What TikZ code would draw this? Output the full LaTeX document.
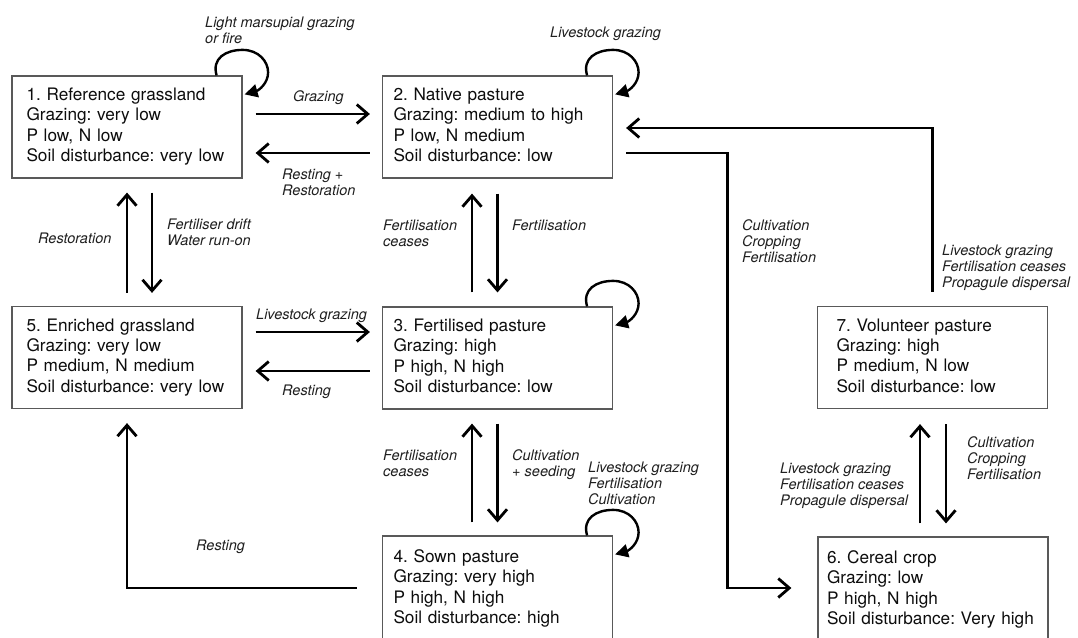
\documentclass[tikz,border=0pt]{standalone}
\usepackage{fontspec}
\usetikzlibrary{arrows.meta,calc}
\newfontfamily\helv{TeX Gyre Heros}
\newcommand{\boxfont}{\helv\frenchspacing\fontsize{17.2}{20.3}\selectfont}
\newcommand{\labfont}{\helv\frenchspacing\itshape\fontsize{14.5}{16}\selectfont}
\tikzset{
  statebox/.style={draw=black!65, line width=1.2pt, minimum width=230pt, minimum height=102pt,
    inner sep=0pt, font=\boxfont, text=black!95, align=left, text width=201pt},
  lab/.style={anchor=north west, inner sep=0pt, font=\labfont, text=black!88, align=left},
  arr/.style={line width=2.8pt, -{Straight Barb[length=11pt,width=19pt]}},
  loopline/.style={line width=2.4pt, -{Triangle[length=13pt,width=13pt]}}
}
\newcommand{\selfloop}[1]{%
  \draw[loopline] ($(#1.north east)+(-26,0)$)
    .. controls ($(#1.north east)+(-31,-17)$) and ($(#1.north east)+(-17,-25.5)$) .. ($(#1.north east)+(0,-25.5)$)
    .. controls ($(#1.north east)+(16,-25.5)$) and ($(#1.north east)+(25.5,-14)$) .. ($(#1.north east)+(25.5,-3)$)
    .. controls ($(#1.north east)+(25.5,8)$) and ($(#1.north east)+(16,15)$) .. ($(#1.north east)+(2,19)$);}
\begin{document}
\begin{tikzpicture}[x=1pt,y=-1pt]
\clip (0,0) rectangle (1078,637);
\fill[white] (0,0) rectangle (1078,637);
% boxes
\node[statebox] (n1) at (127,127) {\strut 1. Reference grassland\\Grazing: very low\\P low, N low\\Soil disturbance: very low\strut};
\node[statebox, text width=208pt] (n2) at (497.5,127) {\strut 2. Native pasture\\Grazing: medium to high\\P low, N medium\\Soil disturbance: low\strut};
\node[statebox] (n5) at (127,357.5) {\strut 5. Enriched grassland\\Grazing: very low\\P medium, N medium\\Soil disturbance: very low\strut};
\node[statebox, text width=208pt] (n3) at (497.5,358) {\strut 3. Fertilised pasture\\Grazing: high\\P high, N high\\Soil disturbance: low\strut};
\node[statebox, text width=208pt, minimum height=106pt] (n4) at (497.5,589) {\strut 4. Sown pasture\\Grazing: very high\\P high, N high\\Soil disturbance: high\strut};
\node[statebox, text width=192pt] (n7) at (932.5,357.5) {\strut 7. Volunteer pasture\\Grazing: high\\P medium, N low\\Soil disturbance: low\strut};
\node[statebox, text width=212pt, minimum height=106pt] (n6) at (933,590) {\strut 6. Cereal crop\\Grazing: low\\P high, N high\\Soil disturbance: Very high\strut};
% self loops
\selfloop{n1}
\selfloop{n2}
\selfloop{n3}
\selfloop{n4}
% horizontal arrows
\draw[arr] ($(n1.east)+(13,-13)$) -- ($(n2.west)+(-12,-13)$);
\draw[arr] ($(n2.west)+(-12,26)$) -- ($(n1.east)+(13,26)$);
\draw[arr] ($(n5.east)+(13,-25.5)$) -- ($(n3.west)+(-12,-26)$);
\draw[arr] ($(n3.west)+(-12,13)$) -- ($(n5.east)+(13,13.5)$);
% vertical arrows
\draw[arr] ($(n5.north)+(0,-13)$) -- ($(n1.south)+(0,14)$);
\draw[arr] ($(n1.south)+(25,14)$) -- ($(n5.north)+(25,-13)$);
\draw[arr] ($(n3.north)+(-25.5,-14)$) -- ($(n2.south)+(-25.5,15)$);
\draw[arr] ($(n2.south)+(0,15)$) -- ($(n3.north)+(0,-14)$);
\draw[arr] ($(n4.north)+(-25.5,-13)$) -- ($(n3.south)+(-25.5,14)$);
\draw[arr] ($(n3.south)+(0,14)$) -- ($(n4.north)+(0,-13)$);
\draw[arr] ($(n6.north)+(-13,-13)$) -- ($(n7.south)+(-12.5,15)$);
\draw[arr] ($(n7.south)+(13.5,15)$) -- ($(n6.north)+(13,-13)$);
% long connectors
\draw[arr] ($(n2.east)+(13,26)$) -| ($(n6.west)+(-90,-2)$) -- ($(n6.west)+(-26,-2)$);
\draw[arr] ($(n7.north)+(0,-14)$) |- ($(n2.east)+(13,1)$);
\draw[arr] ($(n4.west)+(-25,-1)$) -| ($(n5.south)+(0,14)$);
% labels
\node[lab] (l1) at (205,15.8) {\strut Light marsupial grazing\\or fire};
\node[lab] (l2) at (293,89.8) {\strut Grazing};
\node[lab] (l3) at (282,167.8) {\strut Resting +\\Restoration};
\node[lab] (l4) at (550,25.8) {\strut Livestock grazing};
\node[lab] (l5) at (38,231.8) {\strut Restoration};
\node[lab] (l6) at (167,217.8) {\strut Fertiliser drift\\Water run-on};
\node[lab] (l7) at (383,218.8) {\strut Fertilisation\\ceases};
\node[lab] (l8) at (512,218.8) {\strut Fertilisation};
\node[lab] (l9) at (742,218.8) {\strut Cultivation\\Cropping\\Fertilisation};
\node[lab] (l10) at (942,243.8) {\strut Livestock grazing\\Fertilisation ceases\\Propagule dispersal};
\node[lab] (l11) at (256,307.8) {\strut Livestock grazing};
\node[lab] (l12) at (282,383.8) {\strut Resting};
\node[lab] (l13) at (383,448.8) {\strut Fertilisation\\ceases};
\node[lab] (l14) at (512,448.8) {\strut Cultivation\\+ seeding};
\node[lab] (l15) at (588,460.8) {\strut Livestock grazing\\Fertilisation\\Cultivation};
\node[lab] (l16) at (196,538.8) {\strut Resting};
\node[lab] (l17) at (780,461.8) {\strut Livestock grazing\\Fertilisation ceases\\Propagule dispersal};
\node[lab] (l18) at (967,435.8) {\strut Cultivation\\Cropping\\Fertilisation};
\end{tikzpicture}
\end{document}
